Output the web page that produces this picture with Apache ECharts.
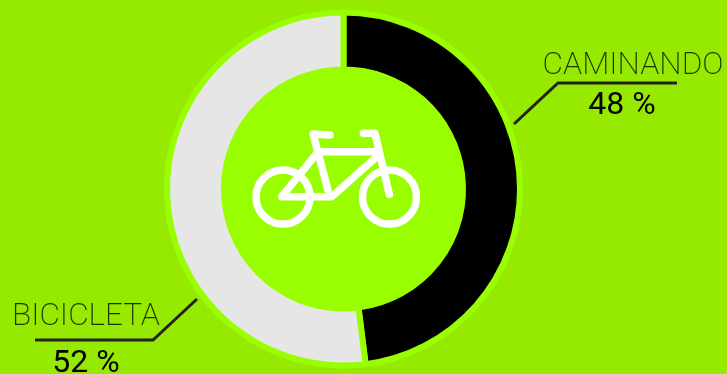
<!DOCTYPE html>
<html>
<head>
<meta charset="utf-8">
<style>html,body{margin:0;padding:0;background:#96e900}#c{width:727px;height:374px}</style>
<script src="https://cdn.jsdelivr.net/npm/echarts@6/dist/echarts.min.js"></script>
</head>
<body>
<div id="c"></div>
<script>
// Modal share of trips
const categories = ['CAMINANDO', 'BICICLETA'];
const shares = [48, 52];
const sliceColors = ['#000000', '#e6e6e6'];

const LIME = '#99ff00';
const INK = '#222222';
const CENTER = [343.5, 189];

// Where each callout sits: text anchor, leader polyline, and value-line tweaks
const callouts = [
  { x: 633, y: 86, line: [[514, 124], [558, 83], [677, 83]], valuePad: [0, 22, 0, 0], nameH: 40, valueH: 40 },
  { x: 86, y: 340.5, line: [[197, 299], [153, 340], [35, 340]], valuePad: [0, 0, 0, 0], nameH: 46, valueH: 46 }
];

// Bicycle pictogram strokes
const bikeStrokes = [
  [[330, 135], [313, 134], [328, 190]],
  [[320, 151.7], [375, 151.7]],
  [[376.7, 156.7], [331.7, 196.7], [281.7, 196.7], [318.3, 151.7]],
  [[363.3, 133.3], [375, 133.3], [389.3, 194.3]]
];
const bikeStyle = { fill: 'none', stroke: '#fff', lineWidth: 7.5, lineCap: 'round', lineJoin: 'round' };

const chart = echarts.init(document.getElementById('c'));
chart.setOption({
  backgroundColor: '#96e900',
  animation: false,
  series: [
    {
      type: 'pie',
      silent: true,
      center: CENTER,
      radius: [0, 122],
      label: { show: false },
      labelLine: { show: false },
      itemStyle: { color: LIME },
      data: [1]
    },
    {
      type: 'pie',
      silent: true,
      center: CENTER,
      radius: [119.5, 176.5],
      startAngle: 90,
      clockwise: true,
      avoidLabelOverlap: false,
      itemStyle: { borderColor: LIME, borderWidth: 6 },
      labelLine: { show: true, lineStyle: { color: INK, width: 3 } },
      data: categories.map((name, i) => ({
        name,
        value: shares[i],
        itemStyle: { color: sliceColors[i] },
        label: {
          show: true,
          formatter: '{n|{b}}\n{v|{c} %}',
          rich: {
            n: { fontFamily: 'Roboto', fontWeight: 200, fontSize: 31.5, color: '#1f3300', height: callouts[i].nameH, lineHeight: callouts[i].nameH, align: 'center' },
            v: { fontFamily: 'Roboto', fontWeight: 400, fontSize: 32, color: '#000', height: callouts[i].valueH, lineHeight: callouts[i].valueH, align: 'center', padding: callouts[i].valuePad }
          }
        }
      })),
      labelLayout: params => {
        const c = callouts[params.dataIndex];
        return { x: c.x, y: c.y, align: 'center', verticalAlign: 'middle', labelLinePoints: c.line };
      }
    }
  ],
  graphic: {
    elements: [
      { type: 'circle', z: 10, silent: true, shape: { cx: 283, cy: 197, r: 27 }, style: { fill: 'none', stroke: '#fff', lineWidth: 7.5 } },
      { type: 'circle', z: 10, silent: true, shape: { cx: 389.5, cy: 197, r: 27 }, style: { fill: 'none', stroke: '#fff', lineWidth: 7.5 } }
    ].concat(bikeStrokes.map(points => ({
      type: 'polyline',
      z: 10,
      silent: true,
      shape: { points },
      style: bikeStyle
    })))
  }
});
</script>
</body>
</html>
